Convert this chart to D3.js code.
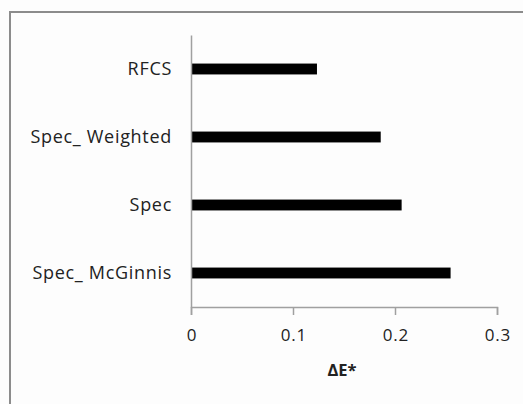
<!DOCTYPE html>
<html><head><meta charset="utf-8">
<script src="https://cdn.jsdelivr.net/npm/d3@7"></script>
<style>
body{margin:0;background:#fdfdfd;}
svg{display:block;}
text{font-family:"Open Sans",sans-serif;fill:#222;}
</style></head><body>
<svg id="c" width="523" height="404"></svg>
<script>
const categories = ["RFCS", "Spec_ Weighted", "Spec", "Spec_ McGinnis"];
const values = [0.1235, 0.186, 0.2065, 0.2545];
const xTicks = [0, 0.1, 0.2, 0.3];
const xTitle = "ΔE*";

const svg = d3.select("#c");
const W = 523, H = 404;
const FONT = "'Open Sans',sans-serif";
svg.append("rect").attr("width", W).attr("height", H).attr("fill", "#fdfdfd");
// chart border
svg.append("path").attr("d", `M10,${H+5} V12 H${W+5}`).attr("fill", "none")
  .attr("stroke", "#8c8c8c").attr("stroke-width", 2);

const x = d3.scaleLinear().domain([0, 0.3]).range([191, 497]);
const y = d3.scaleBand().domain(categories).range([35, 307]).paddingInner(0.84).paddingOuter(0.42);

svg.selectAll("rect.bar").data(categories).join("rect").attr("class", "bar")
  .attr("x", x(0)).attr("y", d => y(d))
  .attr("width", (d, i) => x(values[i]) - x(0)).attr("height", y.bandwidth())
  .attr("fill", "#000");

// x axis
const xa = svg.append("g").attr("transform", "translate(0,307)")
  .call(d3.axisBottom(x).tickValues(xTicks).tickSize(8).tickPadding(14).tickFormat(d3.format("")));
xa.select(".domain").attr("stroke", "#a0a0a0").attr("stroke-width", 1.5);
xa.selectAll(".tick line").attr("stroke", "#a0a0a0").attr("stroke-width", 1.5);
xa.selectAll(".tick text").attr("font-size", 17).attr("letter-spacing", 0.8)
  .attr("dx", 0.4).attr("fill", "#222").attr("font-family", FONT);

// y axis
const ya = svg.append("g").attr("transform", "translate(191,0)")
  .call(d3.axisLeft(y).tickSize(0).tickPadding(20));
ya.select(".domain").attr("stroke", "#a0a0a0").attr("stroke-width", 1.5);
ya.selectAll(".tick text").attr("font-size", 18).attr("letter-spacing", 0.7)
  .attr("dx", 1).attr("fill", "#222").attr("font-family", FONT);

svg.append("text").attr("x", 342).attr("y", 376).attr("text-anchor", "middle")
  .attr("font-family", FONT).attr("font-size", 16.5).attr("font-weight", "bold").text(xTitle);
</script>
</body></html>
